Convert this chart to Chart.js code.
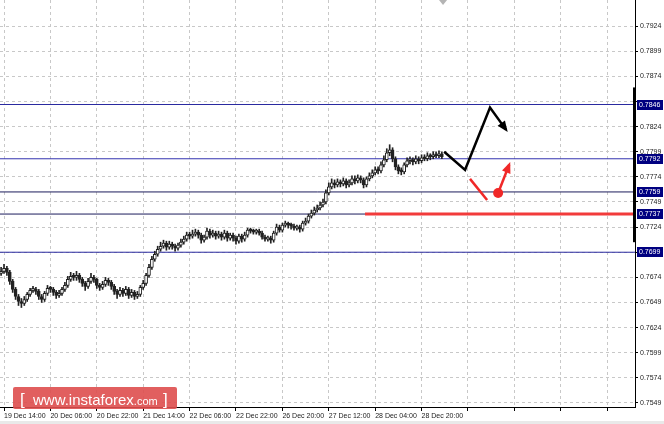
<!DOCTYPE html>
<html>
<head>
<meta charset="utf-8">
<script src="https://cdn.jsdelivr.net/npm/chart.js@4.4.1/dist/chart.umd.min.js"></script>
<style>
  html, body { margin: 0; padding: 0; background: #fff; }
  #wrap { width: 664px; height: 424px; }
</style>
</head>
<body>
<div id="wrap"><canvas id="chart" width="664" height="424"></canvas></div>
<script>
// hourly candles, index = bar number (0 = first visible bar)
const firstOpen = 0.7678;
const closes = [
  0.7680,0.7683,0.7679,0.7670,0.7662,0.7655,0.7650,0.7648,0.7652,0.7657,
  0.7661,0.7662,0.7660,0.7655,0.7652,0.7658,0.7663,0.7662,0.7659,0.7656,
  0.7658,0.7662,0.7666,0.7672,0.7675,0.7674,0.7676,0.7672,0.7668,0.7665,
  0.7670,0.7674,0.7672,0.7666,0.7664,0.7667,0.7671,0.7669,0.7665,0.7660,
  0.7657,0.7661,0.7658,0.7662,0.7656,0.7659,0.7655,0.7657,0.7664,0.7668,
  0.7676,0.7684,0.7692,0.7697,0.7702,0.7705,0.7708,0.7704,0.7707,0.7705,
  0.7703,0.7706,0.7709,0.7712,0.7716,0.7715,0.7717,0.7719,0.7716,0.7711,
  0.7714,0.7720,0.7716,0.7718,0.7715,0.7717,0.7714,0.7718,0.7713,0.7716,
  0.7713,0.7710,0.7715,0.7712,0.7716,0.7721,0.7720,0.7719,0.7720,0.7718,
  0.7714,0.7712,0.7713,0.7711,0.7718,0.7724,0.7721,0.7726,0.7727,0.7726,
  0.7725,0.7723,0.7724,0.7722,0.7728,0.7730,0.7735,0.7738,0.7741,0.7743,
  0.7746,0.7749,0.7758,0.7764,0.7768,0.7766,0.7769,0.7767,0.7770,0.7766,
  0.7768,0.7772,0.7770,0.7773,0.7771,0.7766,0.7772,0.7775,0.7778,0.7781,
  0.7780,0.7786,0.7791,0.7798,0.7801,0.7792,0.7784,0.7780,0.7779,0.7786,
  0.7790,0.7791,0.7789,0.7792,0.7790,0.7793,0.7792,0.7795,0.7794,0.7796,
  0.7795,0.7797,0.7794
];
const highs = [
  0.7684,0.7687,0.7685,0.7681,0.7672,0.7664,0.7657,0.7653,0.7655,0.7659,
  0.7663,0.7665,0.7664,0.7662,0.7657,0.7660,0.7666,0.7665,0.7664,0.7661,
  0.7661,0.7664,0.7669,0.7675,0.7679,0.7678,0.7680,0.7678,0.7674,0.7670,
  0.7673,0.7678,0.7676,0.7673,0.7668,0.7670,0.7674,0.7673,0.7671,0.7667,
  0.7662,0.7664,0.7663,0.7665,0.7664,0.7662,0.7661,0.7660,0.7666,0.7671,
  0.7678,0.7687,0.7695,0.7700,0.7705,0.7709,0.7711,0.7710,0.7710,0.7709,
  0.7707,0.7708,0.7712,0.7715,0.7719,0.7719,0.7721,0.7722,0.7721,0.7718,
  0.7716,0.7723,0.7722,0.7721,0.7720,0.7720,0.7719,0.7721,0.7720,0.7718,
  0.7718,0.7715,0.7717,0.7717,0.7719,0.7723,0.7723,0.7722,0.7722,0.7722,
  0.7720,0.7716,0.7715,0.7715,0.7720,0.7727,0.7726,0.7728,0.7730,0.7729,
  0.7728,0.7727,0.7726,0.7726,0.7730,0.7733,0.7737,0.7741,0.7744,0.7746,
  0.7749,0.7752,0.7761,0.7768,0.7772,0.7771,0.7772,0.7771,0.7773,0.7772,
  0.7771,0.7775,0.7775,0.7776,0.7775,0.7773,0.7774,0.7778,0.7781,0.7784,
  0.7784,0.7789,0.7795,0.7802,0.7806,0.7803,0.7794,0.7786,0.7783,0.7788,
  0.7793,0.7794,0.7793,0.7795,0.7794,0.7796,0.7796,0.7798,0.7797,0.7799,
  0.7799,0.7800,0.7799
];
const lows = [
  0.7676,0.7678,0.7676,0.7667,0.7659,0.7652,0.7646,0.7644,0.7646,0.7650,
  0.7655,0.7659,0.7657,0.7652,0.7649,0.7650,0.7656,0.7659,0.7656,0.7653,
  0.7654,0.7656,0.7660,0.7664,0.7670,0.7671,0.7671,0.7669,0.7665,0.7661,
  0.7663,0.7668,0.7669,0.7663,0.7661,0.7662,0.7665,0.7666,0.7662,0.7657,
  0.7653,0.7655,0.7655,0.7656,0.7653,0.7654,0.7652,0.7653,0.7655,0.7662,
  0.7666,0.7674,0.7682,0.7690,0.7695,0.7700,0.7703,0.7701,0.7702,0.7702,
  0.7700,0.7701,0.7704,0.7707,0.7710,0.7712,0.7713,0.7715,0.7713,0.7708,
  0.7709,0.7712,0.7713,0.7714,0.7712,0.7713,0.7711,0.7712,0.7710,0.7711,
  0.7710,0.7707,0.7708,0.7709,0.7710,0.7714,0.7718,0.7717,0.7717,0.7716,
  0.7712,0.7710,0.7710,0.7708,0.7709,0.7716,0.7719,0.7719,0.7724,0.7723,
  0.7722,0.7721,0.7721,0.7719,0.7720,0.7726,0.7728,0.7733,0.7736,0.7739,
  0.7741,0.7744,0.7747,0.7756,0.7762,0.7763,0.7764,0.7764,0.7765,0.7763,
  0.7764,0.7766,0.7767,0.7768,0.7768,0.7763,0.7764,0.7770,0.7773,0.7776,
  0.7777,0.7778,0.7784,0.7789,0.7795,0.7789,0.7781,0.7777,0.7776,0.7777,
  0.7784,0.7787,0.7786,0.7787,0.7787,0.7788,0.7790,0.7790,0.7791,0.7792,
  0.7793,0.7793,0.7792
];

// time axis
const xTickIndex = [1, 17, 33, 49, 65, 81, 97, 113, 129, 145, 161, 177, 193, 209];
const xTickLabels = ['19 Dec 14:00', '20 Dec 06:00', '20 Dec 22:00', '21 Dec 14:00', '22 Dec 06:00',
                     '22 Dec 22:00', '26 Dec 20:00', '27 Dec 12:00', '28 Dec 04:00', '28 Dec 20:00'];
const xMin = -0.38, xMax = 218.6;

// price axis
const yTickValues = [0.7549, 0.7574, 0.7599, 0.7624, 0.7649, 0.7674, 0.7699, 0.7724,
                     0.7749, 0.7774, 0.7799, 0.7824, 0.7849, 0.7874, 0.7899, 0.7924];
const yMin = 0.7545, yMax = 0.7950;

// support / resistance levels
const levelValues = [0.7846, 0.7792, 0.7759, 0.7737, 0.7699];
const levelColors = ['#2a2aa0', '#3434b0', '#1c1c5c', '#1c1c5c', '#2a2aa0'];
const redLevel = 0.7737;
const redLevelFrom = 125.5;

// forecast sketch
const blackPathX = [152.8, 160.0, 168.6, 174.1];
const blackPathY = [0.7799, 0.7781, 0.7843, 0.7821];
const redLineX = [161.7, 167.6];
const redLineY = [0.7772, 0.7751];
const redArrowX = [171.4, 175.2];
const redArrowY = [0.7758, 0.7786];
const shiftMarkX = 152.4;
const rangeBar = [0.7709, 0.7863];

const opens = closes.map((c, i) => i === 0 ? firstOpen : closes[i - 1]);
const pts = (xs, ys) => xs.map((x, i) => ({ x: x, y: ys[i] }));

const levelSets = levelValues.map((v, i) => ({
  type: 'line',
  data: [{ x: xMin, y: v }, { x: xMax, y: v }],
  borderColor: levelColors[i],
  borderWidth: 1,
  pointRadius: 0,
  order: 5
}));

const arrowPlugin = {
  id: 'arrows',
  afterDatasetsDraw(chart) {
    const ctx = chart.ctx;
    chart.data.datasets.forEach((ds, i) => {
      if (!ds.arrowHead) return;
      const p = chart.getDatasetMeta(i).data;
      const a = p[p.length - 2], b = p[p.length - 1];
      const ang = Math.atan2(b.y - a.y, b.x - a.x);
      const len = 11, half = 4.5;
      ctx.save();
      ctx.fillStyle = ds.borderColor;
      ctx.translate(b.x, b.y);
      ctx.rotate(ang);
      ctx.beginPath();
      ctx.moveTo(3, 0);
      ctx.lineTo(3 - len, -half);
      ctx.lineTo(3 - len, half);
      ctx.closePath();
      ctx.fill();
      ctx.restore();
    });
  }
};

const decorPlugin = {
  id: 'decor',
  afterDraw(chart) {
    const ctx = chart.ctx;
    const area = chart.chartArea;
    const sy = chart.scales.y, sx = chart.scales.x;

    // price range bar on the axis
    ctx.save();
    ctx.strokeStyle = '#000';
    ctx.lineWidth = 3;
    ctx.beginPath();
    ctx.moveTo(area.right - 0.5, sy.getPixelForValue(rangeBar[1]));
    ctx.lineTo(area.right - 0.5, sy.getPixelForValue(rangeBar[0]));
    ctx.stroke();

    // shift marker at top
    const mx = sx.getPixelForValue(shiftMarkX);
    ctx.fillStyle = '#b4b4b4';
    ctx.beginPath();
    ctx.moveTo(mx - 4, 0);
    ctx.lineTo(mx + 4, 0);
    ctx.lineTo(mx, 5);
    ctx.closePath();
    ctx.fill();

    // level labels
    ctx.font = '7px "Liberation Sans", Arial, sans-serif';
    ctx.textBaseline = 'middle';
    ctx.textAlign = 'left';
    levelValues.forEach(v => {
      const y = Math.round(sy.getPixelForValue(v));
      ctx.fillStyle = '#000080';
      ctx.fillRect(area.right + 2, y - 5, 26, 10);
      ctx.fillStyle = '#fff';
      ctx.fillText(v.toFixed(4), area.right + 4, y + 0.5);
    });

    // bottom strip
    ctx.fillStyle = '#e9e9e9';
    ctx.fillRect(0, 421, 664, 3);

    // watermark
    ctx.fillStyle = 'rgba(222, 78, 78, 0.9)';
    ctx.beginPath();
    ctx.roundRect(13, 387, 164, 22, 2);
    ctx.fill();
    ctx.fillStyle = '#fff';
    ctx.textBaseline = 'alphabetic';
    ctx.font = '17px "Liberation Sans", Arial, sans-serif';
    ctx.fillText('[', 20, 405);
    ctx.font = '15px "Liberation Sans", Arial, sans-serif';
    ctx.fillText('www.instaforex', 33, 405);
    const w = ctx.measureText('www.instaforex').width;
    ctx.font = '11px "Liberation Sans", Arial, sans-serif';
    ctx.fillText('.com', 33 + w, 405);
    ctx.font = '17px "Liberation Sans", Arial, sans-serif';
    ctx.fillText(']', 163, 405);
    ctx.restore();
  }
};

new Chart(document.getElementById('chart'), {
  type: 'bar',
  data: {
    datasets: [
      ...levelSets,
      {
        type: 'bar',
        data: closes.map((c, i) => ({ x: i, y: [lows[i], highs[i]] })),
        backgroundColor: '#222',
        barThickness: 1,
        grouped: false,
        order: 3
      },
      {
        type: 'bar',
        data: closes.map((c, i) => ({ x: i, y: [opens[i], c] })),
        backgroundColor: closes.map((c, i) => c >= opens[i] ? '#fff' : '#222'),
        borderColor: '#222',
        borderWidth: 1,
        borderSkipped: false,
        barThickness: 3,
        minBarLength: 2,
        grouped: false,
        order: 2
      },
      {
        type: 'line',
        data: [{ x: redLevelFrom, y: redLevel }, { x: xMax, y: redLevel }],
        borderColor: '#f23b3b',
        borderWidth: 3,
        pointRadius: 0,
        order: 1
      },
      {
        type: 'line',
        data: pts(blackPathX, blackPathY),
        borderColor: '#000',
        borderWidth: 2.5,
        pointRadius: 0,
        borderJoinStyle: 'miter',
        arrowHead: true,
        order: 0
      },
      {
        type: 'line',
        data: pts(redLineX, redLineY),
        borderColor: '#f02828',
        borderWidth: 2.5,
        pointRadius: 0,
        order: 0
      },
      {
        type: 'line',
        data: pts(redArrowX, redArrowY),
        borderColor: '#f02828',
        borderWidth: 2.5,
        pointRadius: [5, 0],
        pointBackgroundColor: '#f02828',
        pointBorderWidth: 0,
        arrowHead: true,
        order: 0
      }
    ]
  },
  options: {
    responsive: false,
    animation: false,
    devicePixelRatio: 1,
    layout: { padding: 0, autoPadding: false },
    plugins: { legend: { display: false }, tooltip: { enabled: false } },
    scales: {
      x: {
        type: 'linear',
        min: xMin,
        max: xMax,
        offset: false,
        afterBuildTicks(s) { s.ticks = xTickIndex.map(v => ({ value: v })); },
        afterFit(s) { s.height = 17; s.paddingLeft = 0; s.paddingRight = 0; },
        ticks: {
          autoSkip: false,
          maxRotation: 0,
          align: 'start',
          padding: 1,
          color: '#222',
          font: { family: 'Liberation Sans', size: 7 },
          callback: (v, i) => xTickLabels[i] || ''
        },
        grid: { color: '#c8c8c8', offset: false, tickLength: 4, tickColor: '#000' },
        border: { display: true, color: '#000', width: 1, dash: [3, 3] }
      },
      y: {
        position: 'right',
        min: yMin,
        max: yMax,
        beginAtZero: false,
        afterBuildTicks(s) { s.ticks = yTickValues.map(v => ({ value: v })); },
        afterFit(s) { s.width = 29; s.paddingTop = 0; s.paddingBottom = 0; },
        ticks: {
          autoSkip: false,
          padding: 2,
          color: '#222',
          font: { family: 'Liberation Sans', size: 7 },
          // labels sitting under a level box are not shown
          callback: v => levelValues.some(l => Math.abs(l - v) < 0.0005) ? '' : v.toFixed(4)
        },
        grid: { color: '#c8c8c8', tickLength: 3, tickColor: '#000' },
        border: { display: true, color: '#000', width: 1, dash: [3, 3] }
      }
    }
  },
  plugins: [arrowPlugin, decorPlugin]
});
</script>
</body>
</html>
